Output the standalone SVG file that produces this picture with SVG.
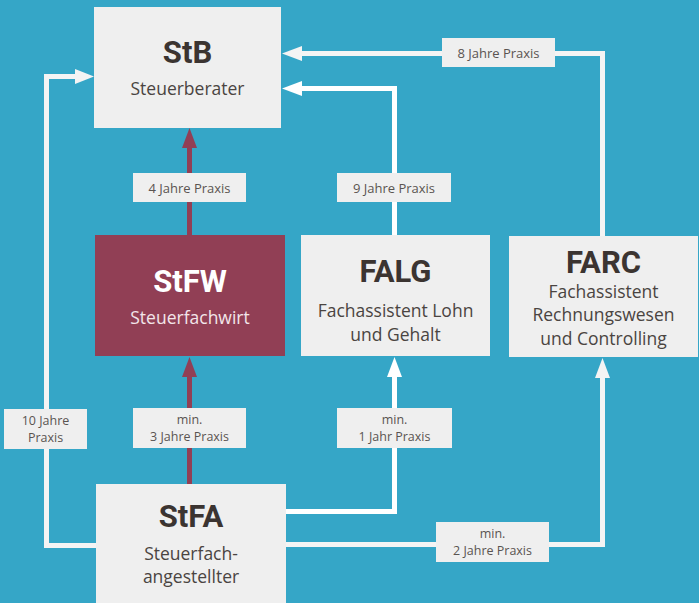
<svg xmlns="http://www.w3.org/2000/svg" width="699" height="603" viewBox="0 0 699 603">
<style>
.box{fill:#efefef}
.t{font-family:Roboto,"Liberation Sans",sans-serif;font-weight:bold;font-size:31px;fill:#3b3431;text-anchor:middle}
.s{font-family:"Open Sans","Liberation Sans",sans-serif;font-size:17.5px;fill:#4a4441;text-anchor:middle}
.lb{fill:#efefef}
.l{font-family:"Open Sans","Liberation Sans",sans-serif;font-size:13px;fill:#5a5451;text-anchor:middle}
.l2{font-family:"Open Sans","Liberation Sans",sans-serif;font-size:12.5px;fill:#5a5451;text-anchor:middle}
.w{fill:none;stroke:#f4f4f4;stroke-width:5}
.ww{fill:none;stroke:#ffffff;stroke-width:5}
.m{fill:none;stroke:#913f55;stroke-width:5}
</style>
<rect width="699" height="603" fill="#35a6c7"/>
<g id="connectors">
  <path class="w" d="M602.5 236 V53.5 H300"/>
  <polygon points="282,53.5 302,46 302,61" fill="#f4f4f4"/>
  <path class="ww" d="M394.5 235 V88.5 H300"/>
  <polygon points="282,88.5 302,81 302,96" fill="#ffffff"/>
  <path class="w" d="M96 545.5 H46.5 V76.5 H76"/>
  <polygon points="94,76.5 75,69 75,84" fill="#f4f4f4"/>
  <path class="m" d="M189.5 235 V146"/>
  <polygon points="189.5,128 182,148 197,148" fill="#913f55"/>
  <path class="m" d="M189.5 484 V375"/>
  <polygon points="189.5,357 182,377 197,377" fill="#913f55"/>
  <path class="ww" d="M286 511.5 H394.5 V375"/>
  <polygon points="394.5,357 387,377 402,377" fill="#ffffff"/>
  <path class="w" d="M286 544.5 H602.5 V376"/>
  <polygon points="602.5,358 595,378 610,378" fill="#f4f4f4"/>
  <rect class="lb" x="133" y="173" width="113" height="29"/>
  <text class="l" x="189.5" y="193">4 Jahre Praxis</text>
  <rect class="lb" x="337" y="173" width="114" height="29"/>
  <text class="l" x="394" y="193">9 Jahre Praxis</text>
  <rect class="lb" x="442" y="38" width="113" height="29"/>
  <text class="l" x="498.5" y="58">8 Jahre Praxis</text>
  <rect class="lb" x="4" y="409" width="83" height="40"/>
  <text class="l2" x="45.5" y="425">10 Jahre</text>
  <text class="l2" x="45.5" y="442">Praxis</text>
  <rect class="lb" x="133" y="408" width="113" height="40"/>
  <text class="l2" x="189.5" y="424">min.</text>
  <text class="l2" x="189.5" y="441">3 Jahre Praxis</text>
  <rect class="lb" x="337" y="408" width="115" height="40"/>
  <text class="l2" x="394.5" y="424">min.</text>
  <text class="l2" x="394.5" y="441">1 Jahr Praxis</text>
  <rect class="lb" x="436" y="522" width="113" height="40"/>
  <text class="l2" x="492.5" y="538">min.</text>
  <text class="l2" x="492.5" y="555">2 Jahre Praxis</text>
</g>
<g id="StB">
  <rect class="box" x="94" y="7" width="187" height="121"/>
  <text class="t" x="187.5" y="63">StB</text>
  <text class="s" x="187.5" y="95">Steuerberater</text>
</g>
<g id="StFW">
  <rect x="95" y="235" width="190" height="121" fill="#913f55"/>
  <text class="t" x="190" y="292" style="fill:#ffffff">StFW</text>
  <text class="s" x="190" y="324" style="fill:#f3e6ea">Steuerfachwirt</text>
</g>
<g id="FALG">
  <rect class="box" x="301" y="235" width="189" height="121"/>
  <text class="t" x="395.5" y="282">FALG</text>
  <text class="s" x="395.5" y="317">Fachassistent Lohn</text>
  <text class="s" x="395.5" y="341">und Gehalt</text>
</g>
<g id="FARC">
  <rect class="box" x="509" y="236" width="189" height="121"/>
  <text class="t" x="603.5" y="273">FARC</text>
  <text class="s" x="603.5" y="298">Fachassistent</text>
  <text class="s" x="603.5" y="321">Rechnungswesen</text>
  <text class="s" x="603.5" y="345">und Controlling</text>
</g>
<g id="StFA">
  <rect class="box" x="96" y="484" width="190" height="119"/>
  <text class="t" x="191" y="527">StFA</text>
  <text class="s" x="191" y="560">Steuerfach-</text>
  <text class="s" x="191" y="583">angestellter</text>
</g>
</svg>
